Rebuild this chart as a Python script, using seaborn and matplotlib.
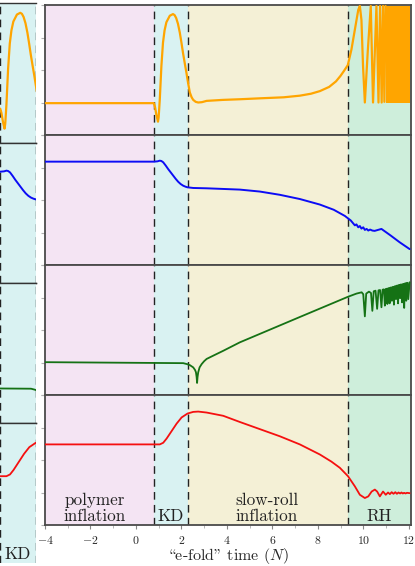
import numpy as np
import matplotlib
matplotlib.use("Agg")
import matplotlib.pyplot as plt
import seaborn as sns

# era boundaries in e-fold time N
era_edges = [-4.0, 0.80, 2.27, 9.33, 12.1]
era_colors = ["#f4e4f3", "#d9f2f2", "#f4f0d6", "#ceeedb"]
era_labels = ["polymer\ninflation", "KD", "slow-roll\ninflation", "RH"]
era_label_x = [-1.8, 1.53, 5.75, 10.7]

xticks = [-4, -2, 0, 2, 4, 6, 8, 10, 12]

# panel 1 (orange)
orange_N = [-4.0, 0.79, 0.84, 0.90, 0.97, 1.00, 1.05, 1.12, 1.19, 1.26, 1.34, 1.49, 1.63,
            1.70, 1.77, 1.85, 1.93, 2.00, 2.07, 2.15, 2.22, 2.29, 2.37, 2.45, 2.52, 2.63,
            2.74, 2.90, 3.11, 3.82, 4.57, 5.50, 6.50, 7.21, 7.70, 8.09, 8.50, 8.80, 9.00,
            9.15, 9.32, 9.48, 9.63, 9.78, 9.85, 9.92, 9.99, 10.07, 10.20, 10.33, 10.43,
            10.58, 10.67, 10.74, 10.81, 10.87, 10.93, 10.98]
orange_y = [0.98, 0.98, 0.86, 0.62, 0.41, 0.55, 1.10, 2.12, 2.84, 3.22, 3.47, 3.67, 3.72,
            3.69, 3.60, 3.42, 3.15, 2.85, 2.53, 2.20, 1.92, 1.62, 1.31, 1.16, 1.08, 1.02,
            1.00, 1.01, 1.05, 1.08, 1.10, 1.13, 1.16, 1.21, 1.27, 1.35, 1.48, 1.65, 1.82,
            1.97, 2.15, 2.63, 3.24, 3.85, 3.97, 3.54, 2.12, 1.00, 2.60, 3.97, 1.00,
            3.97, 1.00, 3.97, 1.00, 3.97, 1.02, 3.97]
# fast oscillation band at the end of RH
orange_band_N = [10.98, 12.04]
orange_band_lo = [1.0, 1.0]
orange_band_hi = [3.97, 3.97]

# panel 2 (blue)
blue_N = [-4.0, 0.79, 0.95, 1.05, 1.12, 1.20, 1.31, 1.42, 1.53, 1.64, 1.75, 1.86, 1.97,
          2.08, 2.18, 2.27, 2.52, 3.11, 4.57, 5.45, 6.33, 7.21, 8.09, 8.70, 9.19, 9.45,
          9.63, 9.70, 9.78, 9.85, 9.92, 10.00, 10.07, 10.15, 10.22, 10.30, 10.40, 10.50,
          10.80, 11.20, 11.60, 12.04]
blue_y = [3.18, 3.18, 3.19, 3.21, 3.20, 3.16, 3.06, 2.95, 2.85, 2.75, 2.65, 2.56, 2.49,
          2.44, 2.41, 2.39, 2.37, 2.36, 2.32, 2.26, 2.16, 2.03, 1.86, 1.70, 1.51, 1.37,
          1.22, 1.25, 1.16, 1.20, 1.12, 1.16, 1.08, 1.11, 1.06, 1.09, 1.06, 1.05,
          1.11, 0.91, 0.70, 0.49]

# panel 3 (green)
green_N = [-4.0, 2.08, 2.25, 2.37, 2.52, 2.60, 2.64, 2.67, 2.69, 2.71, 2.74, 2.80, 2.89,
           3.00, 3.11, 3.40, 3.84, 4.57, 7.21, 9.32, 9.70, 9.93, 10.00, 10.07, 10.13,
           10.25, 10.34, 10.40, 10.46, 10.54, 10.61, 10.67, 10.74, 10.80, 10.85, 10.91,
           10.95, 10.99, 11.03, 11.06, 11.09, 11.13, 11.16, 11.19, 11.23, 11.26, 11.29,
           11.32, 11.35, 11.38, 11.41, 11.44, 11.47, 11.50, 11.53, 11.56, 11.59, 11.62,
           11.65, 11.68, 11.71, 11.74, 11.77, 11.80, 11.83, 11.86, 11.89, 11.92, 11.95,
           11.98, 12.04]
green_y = [1.01, 0.98, 0.95, 0.92, 0.85, 0.77, 0.70, 0.55, 0.37, 0.55, 0.70, 0.85, 0.95,
           1.04, 1.11, 1.21, 1.36, 1.62, 2.40, 3.02, 3.12, 3.16, 3.10, 2.42, 3.12,
           3.18, 3.14, 2.59, 3.19, 3.21, 2.65, 3.22, 3.23, 2.70, 3.24, 3.25,
           2.75, 3.26, 3.27, 2.80, 3.28, 3.29, 2.82, 3.30, 3.31, 2.90, 3.32,
           3.33, 2.78, 3.34, 3.35, 2.95, 3.36, 3.37, 2.82, 3.38, 3.39, 2.98,
           3.40, 3.40, 2.85, 3.41, 3.42, 2.68, 3.43, 3.44, 2.90, 3.45, 3.45,
           2.95, 3.47]

# panel 4 (red)
red_N = [-4.0, 1.05, 1.20, 1.35, 1.57, 1.79, 2.01, 2.27, 2.52, 2.74, 3.11, 3.84, 4.57,
         5.45, 6.33, 7.21, 8.09, 8.60, 8.97, 9.33, 9.63, 9.85, 10.07, 10.22, 10.37,
         10.51, 10.61, 10.73, 10.87, 10.99, 11.09, 11.17, 11.25, 11.33, 11.41, 11.48,
         11.55, 11.62, 11.68, 11.74, 11.80, 11.86, 11.92, 12.04]
red_y = [2.48, 2.48, 2.53, 2.66, 2.89, 3.12, 3.31, 3.43, 3.48, 3.49, 3.46, 3.36, 3.17,
         2.95, 2.73, 2.48, 2.17, 1.95, 1.76, 1.50, 1.19, 0.93, 0.83, 0.88, 1.03,
         1.09, 1.03, 0.88, 1.03, 0.93, 1.00, 0.95, 1.01, 0.96, 1.01, 0.96,
         1.00, 0.97, 1.00, 0.97, 0.99, 0.97, 0.99, 0.98]

curves = [
    (orange_N, orange_y, "#ffa500", 1.6),
    (blue_N, blue_y, "#0c0cf5", 1.4),
    (green_N, green_y, "#157215", 1.3),
    (red_N, red_y, "#f51010", 1.3),
]

sns.set_theme(style="white")
plt.rcParams["font.family"] = ["cmr10", "DejaVu Serif"]
plt.rcParams["mathtext.fontset"] = "cm"
plt.rcParams["axes.formatter.use_mathtext"] = True
plt.rcParams["axes.unicode_minus"] = True

W, H = 415, 566
fig = plt.figure(figsize=(W / 100, H / 100), dpi=100)


def draw_panel(ax, i, xlim, show_labels):
    xs, ys, col, lw = curves[i]
    for k in range(4):
        ax.axvspan(era_edges[k], era_edges[k + 1], color=era_colors[k], lw=0, zorder=0)
    for e in era_edges[1:4]:
        ax.axvline(e, color="#222222", lw=1.0, ls=(0, (5.5, 3.8)), zorder=1)
    sns.lineplot(x=xs, y=ys, ax=ax, color=col, lw=lw, sort=False, estimator=None, zorder=3)
    if i == 0:
        ax.fill_between(orange_band_N, orange_band_lo, orange_band_hi, color=col, lw=0, zorder=3)
    ax.set_xlim(*xlim)
    ax.set_ylim(0, 4)
    ax.set_xlabel("")
    ax.set_ylabel("")
    if show_labels:
        for lab, lx in zip(era_labels, era_label_x):
            if xlim[0] < lx < xlim[1]:
                ax.text(lx, 0.02, lab, ha="center", va="bottom", fontsize=12.3,
                        linespacing=1.12, color="#222222", zorder=4)


# main stack of four panels
left, right = 45 / W, 411 / W
top_px, ph = 5, 130
for i in range(4):
    b = 1 - (top_px + ph * (i + 1)) / H
    ax = fig.add_axes([left, b, right - left, ph / H])
    draw_panel(ax, i, (-4, 12.1), i == 3)
    for s in ax.spines.values():
        s.set_color("#4a4a4a")
        s.set_linewidth(1.3)
    ax.set_yticks([0, 1, 2, 3, 4])
    ax.tick_params(axis="y", left=True, direction="out", length=3, width=0.8,
                   color="#b0b0b0", labelleft=False)
    if i == 3:
        ax.set_xticks(xticks)
        ax.set_xticks(range(-4, 13), minor=True)
        ax.tick_params(axis="x", bottom=True, which="major", direction="out", length=3,
                       width=0.8, color="#888888", labelsize=8.5, pad=3.5)
        ax.tick_params(axis="x", bottom=True, which="minor", direction="out", length=2,
                       width=0.6, color="#aaaaaa")
        # cmr10 keeps TeX's OT1 layout: "\" is the opening and '"' the closing double quote
        ax.set_xlabel('\\e-fold" time ($N$)', fontsize=11.5, labelpad=0)
    else:
        ax.set_xticks([])

# left strip: the KD era shown again, cut at the figure edge
sw = 36 / W
for i in range(4):
    b = 1 - (3 + 140 * (i + 1)) / H
    ax = fig.add_axes([0, b, sw, 140 / H])
    draw_panel(ax, i, (0.78, 2.29), i == 3)
    ax.set_xticks([])
    ax.set_yticks([])
    for name, s in ax.spines.items():
        if name in ("left", "right") or (i == 3 and name == "bottom"):
            s.set_visible(False)
        else:
            s.set_color("#333333")
            s.set_linewidth(1.0)

fig.savefig("out.png", dpi=100)
